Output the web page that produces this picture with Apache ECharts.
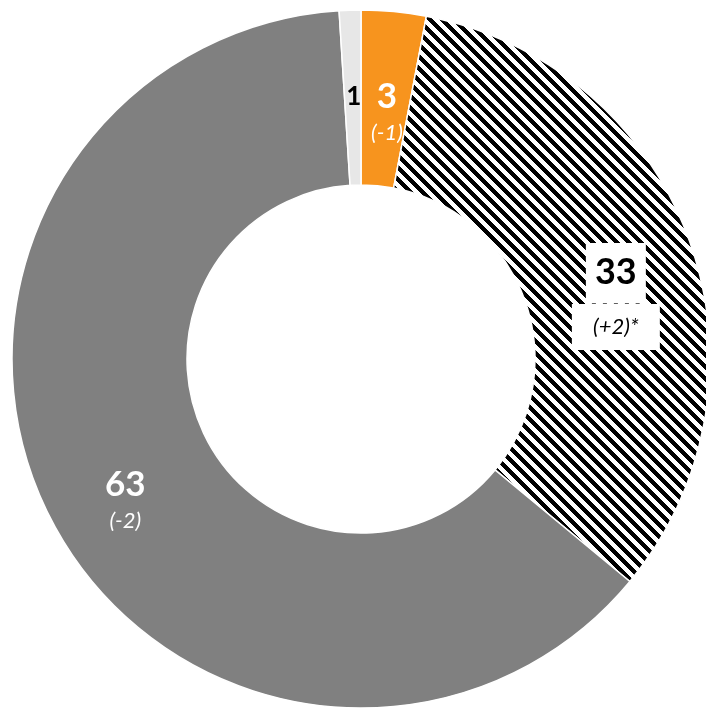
<!DOCTYPE html>
<html>
<head>
<meta charset="utf-8">
<script src="https://cdn.jsdelivr.net/npm/echarts@6/dist/echarts.min.js"></script>
<style>
html,body{margin:0;padding:0;background:#fff;}
#chart{width:706px;height:708px;}
</style>
</head>
<body>
<div id="chart"></div>
<script>
// Data (clockwise from 12 o'clock)
const categories = ['Orange', 'Striped', 'Gray', 'Light gray'];
const values = [3, 33, 63, 1];
const changes = ['(-1)', '(+2)*', '(-2)', ''];

// Crisp diagonal stripe pattern (white with black stripes, down-right)
function makeStripes() {
  const w = 12, h = 12, black = 6;
  const c = document.createElement('canvas');
  c.width = w; c.height = h;
  const ctx = c.getContext('2d');
  ctx.fillStyle = '#ffffff';
  ctx.fillRect(0, 0, w, h);
  ctx.fillStyle = '#000000';
  for (let y = 0; y < h; y++) {
    for (let x = 0; x < w; x++) {
      if ((((x - y) % w) + w) % w < black) ctx.fillRect(x, y, 1, 1);
    }
  }
  return c;
}
const stripes = makeStripes();

const FONT = 'Lato, "Noto Sans", sans-serif';

const richStyles = {
  vw: { fontFamily: FONT, fontWeight: 'bold', fontSize: 35, color: '#ffffff', lineHeight: 36, align: 'center' },
  dw: { fontFamily: FONT, fontStyle: 'italic', fontSize: 22, color: '#ffffff', lineHeight: 36, align: 'center' },
  vb: { fontFamily: FONT, fontWeight: 'bold', fontSize: 26, color: '#000000', align: 'center' },
  box33: { fontFamily: FONT, fontWeight: 'bold', fontSize: 36, color: '#000000', backgroundColor: '#ffffff',
           width: 60, height: 58, align: 'center', verticalAlign: 'middle' },
  dash: { fontFamily: FONT, fontSize: 10, color: '#000000', backgroundColor: '#ffffff',
          width: 60, height: 3, lineHeight: 3, align: 'center' },
  box2: { fontFamily: FONT, fontStyle: 'italic', fontSize: 22, color: '#000000', backgroundColor: '#ffffff',
          width: 88, height: 46, align: 'center', verticalAlign: 'middle' }
};

const itemColors = ['#F7941E', { image: stripes, repeat: 'repeat' }, '#808080', '#E7E7E7'];
const labelOffsets = [[1, 19], [6, 27], [0, 24], [1, 2]];

const seriesData = values.map((v, i) => {
  let fmt;
  if (i === 0 || i === 2) fmt = '{vw|' + v + '}\n{dw|' + changes[i] + '}';
  else if (i === 1) fmt = '{box33|' + v + '}\n{dash|–  –  –  –  –}\n{box2|' + changes[i] + '}';
  else fmt = '{vb|' + v + '}';
  return {
    name: categories[i],
    value: v,
    itemStyle: { color: itemColors[i] },
    label: { formatter: fmt, offset: labelOffsets[i] }
  };
});

const chart = echarts.init(document.getElementById('chart'));
chart.setOption({
  animation: false,
  series: [{
    type: 'pie',
    center: [361, 359],
    radius: [174, 349],
    startAngle: 90,
    clockwise: true,
    avoidLabelOverlap: false,
    silent: true,
    itemStyle: { borderColor: '#ffffff', borderWidth: 1.5 },
    label: {
      show: true,
      position: 'inside',
      rotate: 0,
      textBorderWidth: 0,
      rich: richStyles
    },
    labelLine: { show: false },
    emphasis: { disabled: true },
    data: seriesData
  }]
});
</script>
</body>
</html>
